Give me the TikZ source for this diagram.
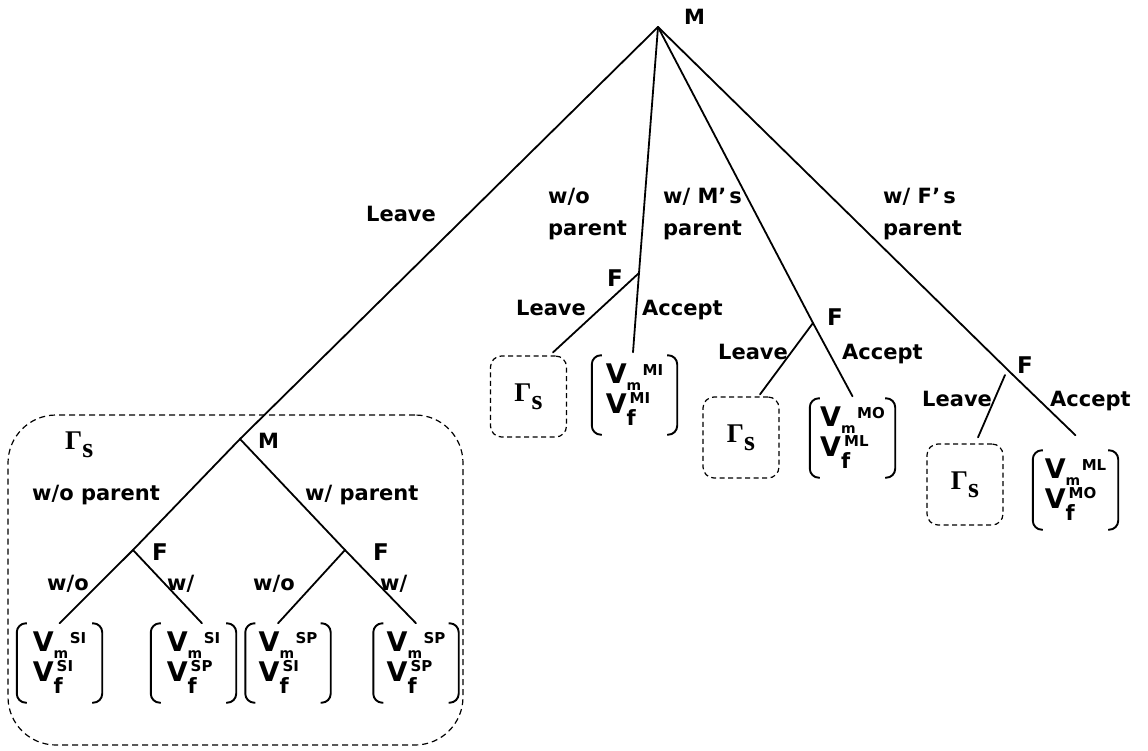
\documentclass[tikz,border=0pt]{standalone}
\usepackage{fontspec}
\setmainfont{DejaVu Sans}
\newfontfamily\gammafont{Liberation Serif}

% Gamma with its lowered s, as set in the sub-game boxes
\newcommand\gams{{\gammafont\bfseries\fontsize{27}{27}\selectfont Γ\raisebox{-8pt}{\fontsize{28}{28}\selectfont s}}}
% two-row payoff vector: V_m^{#1} over V_f^{#2}
\newcommand\payrows[2]{%
  V\raisebox{-7pt}{\fontsize{14}{14}\selectfont m}\kern1.5pt\raisebox{8pt}{\fontsize{15}{15}\selectfont #1}\\
  V\rlap{\kern3pt\raisebox{10pt}{\fontsize{15}{15}\selectfont #2}}\raisebox{-12pt}{\fontsize{21}{21}\selectfont f}\kern12pt}
% round brackets drawn on both sides of a payoff node
\newcommand\parens[1]{%
  \draw[paren] ([xshift=10pt]#1.north west) -- (#1.north west) -- (#1.south west) -- ([xshift=10pt]#1.south west);
  \draw[paren] ([xshift=-10pt]#1.north east) -- (#1.north east) -- (#1.south east) -- ([xshift=-10pt]#1.south east);}

\tikzset{
  tree/.style={line width=1.8pt, line cap=round},
  lbl/.style={font=\fontsize{21}{32}\selectfont\bfseries, inner sep=0pt, anchor=base west},
  lbltwo/.style={font=\fontsize{21}{32}\selectfont\bfseries, inner sep=0pt, anchor=north west, align=left},
  flbl/.style={font=\fontsize{23}{23}\selectfont\bfseries, inner sep=0pt, anchor=base west},
  subbox/.style={draw, dash pattern=on 5pt off 3.5pt, line width=1.2pt, rounded corners=11pt,
    minimum width=76pt, minimum height=81pt, inner sep=0pt},
  bigbox/.style={draw, dash pattern=on 6pt off 4pt, line width=1.2pt, rounded corners=48pt,
    minimum width=455pt, minimum height=330pt, inner sep=0pt},
  payoff/.style={minimum width=85pt, minimum height=79pt, inner sep=0pt, align=left,
    font=\fontsize{27}{30}\selectfont\bfseries},
  paren/.style={line width=1.9pt, rounded corners=9pt},
}

\begin{document}
\begin{tikzpicture}[x=1pt,y=-1pt]
\useasboundingbox (0,0) rectangle (1148,751);

% decision points
\coordinate (root) at (658,27);
\coordinate (m2) at (240,439);
\coordinate (f1) at (639,273);
\coordinate (f2) at (813,323);
\coordinate (f3) at (1013,375);
\coordinate (fl) at (133,550);
\coordinate (fr) at (345,550);

% sub-game box and outcome nodes
\node[bigbox] (sub) at (235.5,580) {};
\node[subbox] (g1) at (528.5,396.5) {\gams};
\node[subbox] (g2) at (741,437.5) {\gams};
\node[subbox] (g3) at (965,484.5) {\gams};
\node[payoff] (v1) at (634.5,395) {\payrows{MI}{MI}};
\node[payoff] (v2) at (852.5,438) {\payrows{MO}{ML}};
\node[payoff] (v3) at (1075.5,490) {\payrows{ML}{MO}};
\node[payoff] (l1) at (59.5,663) {\payrows{SI}{SI}};
\node[payoff] (l2) at (193.5,663) {\payrows{SI}{SP}};
\node[payoff] (l3) at (288,663) {\payrows{SP}{SI}};
\node[payoff] (l4) at (416,663) {\payrows{SP}{SP}};
\parens{v1}\parens{v2}\parens{v3}
\parens{l1}\parens{l2}\parens{l3}\parens{l4}

% branches of the upper game
\draw[tree] (root) -- (m2);
\draw[tree] (root) -- (f1) -- ([xshift=-1.5pt,yshift=3pt]v1.north);
\draw[tree] (f1) -- ([xshift=24.5pt,yshift=3pt]g1.north);
\draw[tree] (root) -- (f2) -- ([yshift=2pt]v2.north);
\draw[tree] (f2) -- ([xshift=19pt,yshift=2pt]g2.north);
\draw[tree] (root) -- (f3) -- ([yshift=15pt]v3.north);
\draw[tree] ([xshift=-8pt]f3) -- ([xshift=13pt,yshift=6pt]g3.north);

% branches of the sub-game
\draw[tree] (m2) -- (fl) -- (l1.north);
\draw[tree] (fl) -- ([xshift=8.5pt]l2.north);
\draw[tree] (m2) -- (fr) -- (l4.north);
\draw[tree] (fr) -- ([xshift=-10pt]l3.north);

% labels of the upper game
\node[lbl] (lm) at (684,25) {M};
\node[lbl] (lleave) at (366,222) {Leave};
\node[lbltwo] (lwo) at (548,188) {w/o\\parent};
\node[lbltwo] (lwm) at (663,188) {w/ M’\kern3pt s\\parent};
\node[lbltwo] (lwf) at (883,188) {w/ F’\kern3pt s\\parent};
\node[flbl] (lf1) at (607,287) {F};
\node[lbl] (le1) at (516,316) {Leave};
\node[lbl] (la1) at (642,316) {Accept};
\node[flbl] (lf2) at (827,325) {F};
\node[lbl] (le2) at (718,359) {Leave};
\node[lbl] (la2) at (842,359) {Accept};
\node[flbl] (lf3) at (1017,373) {F};
\node[lbl] (le3) at (922,406) {Leave};
\node[lbl] (la3) at (1050,406) {Accept};

% labels of the sub-game
\node[inner sep=0pt, anchor=base west] (lg) at (65,449) {\gams};
\node[lbl] (lm2) at (258,448) {M};
\node[lbl] (lwop) at (32,500) {w/o parent};
\node[lbl] (lwp) at (305,500) {w/ parent};
\node[flbl] (lfl) at (152,560) {F};
\node[flbl] (lfr) at (373,560) {F};
\node[lbl] (lb1) at (47,590) {w/o};
\node[lbl] (lb2) at (167,590) {w/};
\node[lbl] (lb3) at (253,590) {w/o};
\node[lbl] (lb4) at (380,590) {w/};
\end{tikzpicture}
\end{document}
